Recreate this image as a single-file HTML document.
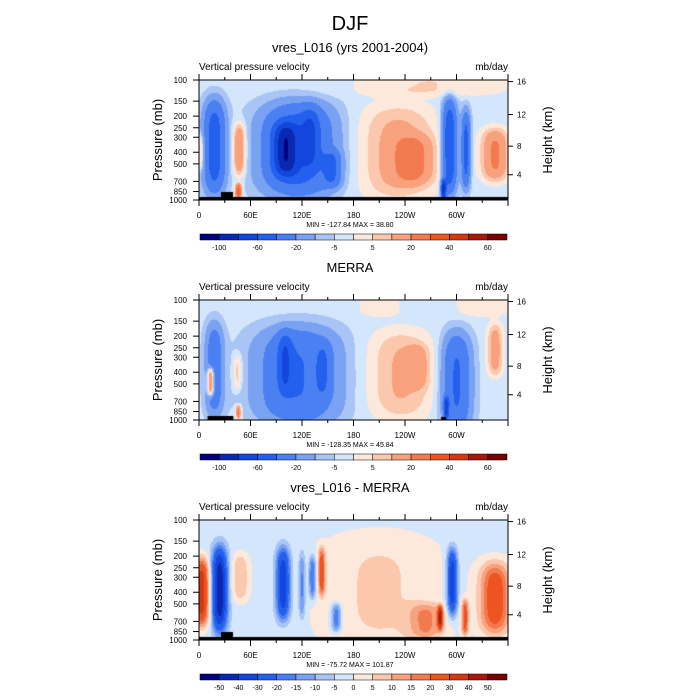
<!DOCTYPE html>
<html><head><meta charset="utf-8">
<style>
body{margin:0;background:#fff;width:700px;height:700px;position:relative;overflow:hidden;font-family:"Liberation Sans",sans-serif}
canvas{position:absolute}
svg{position:absolute;left:0;top:0}
</style></head>
<body>
<canvas id="c1" width="309" height="120" style="left:199px;top:80px"></canvas>
<canvas id="c2" width="309" height="120" style="left:199px;top:300px"></canvas>
<canvas id="c3" width="309" height="120" style="left:199px;top:520px"></canvas>
<svg id="ov" width="700" height="700">
<text x="350" y="30" text-anchor="middle" font-size="20">DJF</text>
</svg>
<script>
// contour levels and colors
const levelsA = [-100,-80,-60,-40,-20,-10,-5,0,5,10,20,30,40,50,60];
const levelsD = [-50,-40,-30,-20,-15,-10,-5,0,5,10,15,20,30,40,50];
const labelsA = ["-100","-60","-20","-5","5","20","40","60"];
const labelsD = ["-50","-40","-30","-20","-15","-10","-5","0","5","10","15","20","30","40","50"];
const colors = ["#03007f","#0a28b0","#1346dc","#2460ee","#4b80f2","#7aa2f2","#a9c5f6","#d3e6fb","#fde9dc","#fbc7ad","#f7a17d","#f27a4f","#ee5322","#d43810","#a8180a","#780000"];
const pTicks = [100,150,200,250,300,400,500,700,850,1000];
const hTicks = [4,8,12,16];
const hTickP = [616,356,194,103];
const lonTicks = [0,60,120,180,240,300];
const lonLabels = ["0","60E","120E","180","120W","60W"];
// blobs: lon, pressure, amplitude, lon-width(deg), log-p half-extent(decades)
const p1Lon =  [270, 18,  2, 47, 46, 115, 100, 130, 155, 232, 250, 292, 311, 345, 285];
const p1Pres = [110,360,400,380,850, 380, 380, 300, 550, 400, 460, 360, 380, 420, 850];
const p1Amp =  [  8,-50, 15, 25, 35, -50, -55, -25, -30,  16,  18, -60, -45,  25, -70];
const p1WL =   [ 90, 12,  4,  7,  4,  40,  14,  10,  10,  45,  22,   8,   5,  16,   3];
const p1WP =   [.10,.38,.15,.22,.07, .38, .22, .25, .15, .40, .20, .38, .32, .22, .10];
const p2Lon =  [ 18, 14, 45, 46, 115, 100, 145, 235, 255, 300, 288, 345, 330, 210];
const p2Pres = [380,480,400,860, 430, 330, 380, 420, 360, 480, 800, 260, 110, 110];
const p2Amp =  [-30, 45, 12, 30, -38, -30, -20,  14,  12, -40, -50,  18,   8,   7];
const p2WL =   [ 10,  4,  5,  3,  45,   8,   8,  38,  12,  16,   3,   9,  30,  25];
const p2WP =   [.38,.12,.15,.06, .40, .25, .22, .38, .18, .40, .10, .22, .10, .10];
const p3Lon =  [  3, 24, 48, 98, 120, 132, 143, 210, 265, 281, 295, 310, 345, 160];
const p3Pres = [400,380,300,340, 350, 300, 270, 400, 700, 650, 330, 650, 450, 650];
const p3Amp =  [ 38,-45, 12,-35, -15, -20,  25,   8,  15,  35, -35,  25,  28, -20];
const p3WL =   [  9,  9, 10,  8,   4,   4,   4,  70,  20,   3,   6,   4,  18,   6];
const p3WP =   [.28,.35,.20,.30, .28, .18, .20, .50, .15, .10, .28, .15, .30, .12];

const PX0=199, PW=309, PH=120;
const xOf = lon => PX0 + lon/360*PW;
const yOf = (top,p) => top + Math.log10(p/100)*PH;
function hexRGB(h){return [parseInt(h.substr(1,2),16),parseInt(h.substr(3,2),16),parseInt(h.substr(5,2),16)];}
const rgb = colors.map(hexRGB);

function drawField(id, base, L, P, A, WL, WP, levels, bar){
  const cv=document.getElementById(id), ctx=cv.getContext('2d');
  const img=ctx.createImageData(PW,PH);
  for(let j=0;j<PH;j++){
    const lp=2+(j+0.5)/PH; const p=Math.pow(10,lp);
    for(let i=0;i<PW;i++){
      const lon=(i+0.5)/PW*360;
      let v=base;
      for(let k=0;k<L.length;k++){
        const dl=(lon-L[k])/WL[k], dp=(lp-Math.log10(P[k]))/WP[k];
        v+=A[k]*Math.exp(-dl*dl-dp*dp*dp*dp);
      }
      let idx=0; while(idx<levels.length && v>=levels[idx]) idx++;
      let c=rgb[idx];
      if(bar && p>950) c=[0,0,0];
      if(lon>26&&lon<40&&p>860&&bar) c=[0,0,0];
      const o=(j*PW+i)*4; img.data[o]=c[0];img.data[o+1]=c[1];img.data[o+2]=c[2];img.data[o+3]=255;
    }
  }
  ctx.putImageData(img,0,0);
}
drawField('c1',-3,p1Lon,p1Pres,p1Amp,p1WL,p1WP,levelsA,true);
drawField('c2',-3,p2Lon,p2Pres,p2Amp,p2WL,p2WP,levelsA,false);
drawField('c3',-2,p3Lon,p3Pres,p3Amp,p3WL,p3WP,levelsD,true);
(function(){const ctx=document.getElementById('c2').getContext('2d');ctx.fillStyle='#000';
 ctx.fillRect(xOf(10)-PX0,116,xOf(40)-xOf(10),4);ctx.fillRect(xOf(282)-PX0,117,5,3);})();

const NS='http://www.w3.org/2000/svg', ov=document.getElementById('ov');
function mk(tag,attrs,txt){const e=document.createElementNS(NS,tag);for(const k in attrs)e.setAttribute(k,attrs[k]);if(txt!==undefined)e.textContent=txt;ov.appendChild(e);return e;}

const panels=[
 {top:80,title:"vres_L016 (yrs 2001-2004)",mm:"MIN = -127.84  MAX =  38.80",labels:labelsA,labAt:[1,3,5,7,9,11,13,15]},
 {top:300,title:"MERRA",mm:"MIN = -128.35  MAX =  45.84",labels:labelsA,labAt:[1,3,5,7,9,11,13,15]},
 {top:520,title:"vres_L016 - MERRA",mm:"MIN = -75.72  MAX = 101.87",labels:labelsD,labAt:[1,2,3,4,5,6,7,8,9,10,11,12,13,14,15]}
];
panels.forEach((pn,n)=>{
  const T=pn.top,B=T+PH,R=PX0+PW;
  let e;
  e=mk('text',{x:350,y:T-28,'text-anchor':'middle','font-size':13},pn.title);
  
  e=mk('text',{x:PX0,y:T-10,'font-size':10},'Vertical pressure velocity');
  
  e=mk('text',{x:R,y:T-10,'font-size':10,'text-anchor':'end'},'mb/day');
  
  e=mk('rect',{x:PX0,y:T,width:PW,height:PH,fill:'none',stroke:'#000','stroke-width':1});
  
  pTicks.forEach(p=>{const y=yOf(T,p);
    mk('line',{x1:PX0-6,x2:PX0,y1:y,y2:y,stroke:'#000'});
    e=mk('text',{x:PX0-12,y:y+3,'font-size':8,'text-anchor':'end'},String(p));
    });
  hTicks.forEach((h,i)=>{const y=yOf(T,hTickP[i]);
    mk('line',{x1:R,x2:R+5,y1:y,y2:y,stroke:'#000'});
    e=mk('text',{x:R+9,y:y+3,'font-size':8},String(h));
    });
  for(let lon=0;lon<=360;lon+=30){const x=xOf(lon),len=lon%60?3:6;
    mk('line',{x1:x,x2:x,y1:T-len,y2:T,stroke:'#000'});
    mk('line',{x1:x,x2:x,y1:B,y2:B+len,stroke:'#000'});}
  lonTicks.forEach((lon,i)=>{
    e=mk('text',{x:xOf(lon),y:B+18,'font-size':8,'text-anchor':'middle'},lonLabels[i]);
    });
  e=mk('text',{x:350,y:B+27,'font-size':7,'text-anchor':'middle'},pn.mm);
  
  e=mk('text',{x:0,y:0,'font-size':13,'text-anchor':'middle',transform:`translate(162,${T+60}) rotate(-90)`},'Pressure (mb)');
  
  e=mk('text',{x:0,y:0,'font-size':13,'text-anchor':'middle',transform:`translate(552,${T+60}) rotate(-90)`},'Height (km)');
  
  // colorbar
  const cy=T+154, cw=307/16;
  colors.forEach((c,i)=>{
    e=mk('rect',{x:200+i*cw,y:cy,width:cw,height:6,fill:c,stroke:'#000','stroke-width':0.5});
    });
  pn.labels.forEach((l,i)=>{
    e=mk('text',{x:200+pn.labAt[i]*cw,y:cy+16,'font-size':7,'text-anchor':'middle'},l);
    });
});
</script>
</body></html>
